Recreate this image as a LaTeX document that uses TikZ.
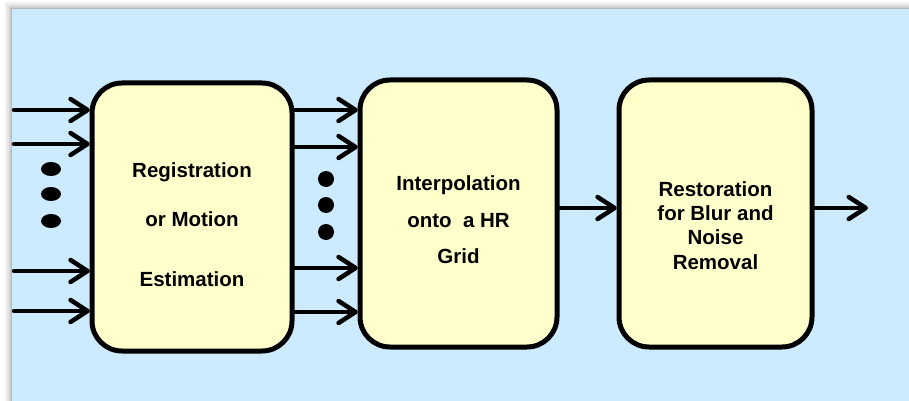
\documentclass[tikz,border=0pt]{standalone}
\usepackage{fontspec}
\setmainfont{Liberation Sans}
\usetikzlibrary{arrows.meta}
\definecolor{panelblue}{RGB}{204,235,255}
\definecolor{boxyellow}{RGB}{255,255,204}
\begin{document}
\begin{tikzpicture}[x=1pt,y=-1pt,
  procbox/.style={draw=black,line width=5pt,fill=boxyellow,rounded corners=30pt},
  arr/.style={line width=4.5pt,line cap=round,-{Straight Barb[length=17pt,width=22pt,line cap=round,line join=round]}},
  lbl/.style={font=\bfseries\fontsize{20.5}{24}\selectfont,anchor=base,inner sep=0pt},
  bigdot/.style={fill=black,draw=none}]
\useasboundingbox (0,0) rectangle (909,401);
% panel with shadow
\fill[white] (0,0) rectangle (909,401);
\fill[black!5] (5,2) rectangle (909,401);
\fill[black!10] (7,4) rectangle (909,401);
\fill[black!18] (9,6) rectangle (909,401);
\fill[black!28] (11,8) rectangle (909,401);
\fill[panelblue] (12,9) rectangle (909,401);
% boxes
\draw[procbox] (92,83) rectangle (292,351);
\draw[procbox] (360,80) rectangle (557,347);
\draw[procbox] (619,80) rectangle (812,347);
\node[inner sep=0pt,minimum width=200pt,minimum height=268pt] (b1) at (192,217) {};
\node[inner sep=0pt,minimum width=197pt,minimum height=267pt] (b2) at (458.5,213.5) {};
\node[inner sep=0pt,minimum width=193pt,minimum height=267pt] (b3) at (715.5,213.5) {};
% texts
\node[lbl] (t1a) at (192,177) {Registration};
\node[lbl] (t1b) at (192,226) {or Motion};
\node[lbl] (t1c) at (192,286) {Estimation};
\node[lbl] (t2a) at (458.5,190) {Interpolation};
\node[lbl] (t2b) at (458.5,227) {onto\ \ a HR};
\node[lbl] (t2c) at (458.5,263) {Grid};
\node[lbl] (t3a) at (715.5,196) {Restoration};
\node[lbl] (t3b) at (715.5,220) {for Blur and};
\node[lbl] (t3c) at (715.5,244) {Noise};
\node[lbl] (t3d) at (715.5,269) {Removal};
% y levels
\coordinate (i1) at (14,110);
\coordinate (i2) at (14,144);
\coordinate (i3) at (14,271);
\coordinate (i4) at (14,311);
\coordinate (m1) at (0,110);
\coordinate (m2) at (0,147);
\coordinate (m3) at (0,268);
\coordinate (m4) at (0,312);
\coordinate (out) at (868,208);
% input arrows
\foreach \c in {i1,i2,i3,i4}{
  \draw[arr] (\c) -- ([xshift=-2pt]b1.west |- \c);
}
% middle arrows
\foreach \c in {m1,m2,m3,m4}{
  \draw[arr] (b1.east |- \c) -- ([xshift=-2pt]b2.west |- \c);
}
\draw[arr] (b2.east |- out) -- ([xshift=-2pt]b3.west |- out);
\draw[arr] (b3.east |- out) -- (out);
% dots
\fill[bigdot] (51,169) ellipse [x radius=10pt,y radius=7pt];
\fill[bigdot] (51,194) ellipse [x radius=10pt,y radius=7pt];
\fill[bigdot] (51,221) ellipse [x radius=10pt,y radius=7pt];
\fill[bigdot] (326,179) circle [radius=8pt];
\fill[bigdot] (326,205) circle [radius=8pt];
\fill[bigdot] (326,232) circle [radius=8pt];
\end{tikzpicture}
\end{document}
